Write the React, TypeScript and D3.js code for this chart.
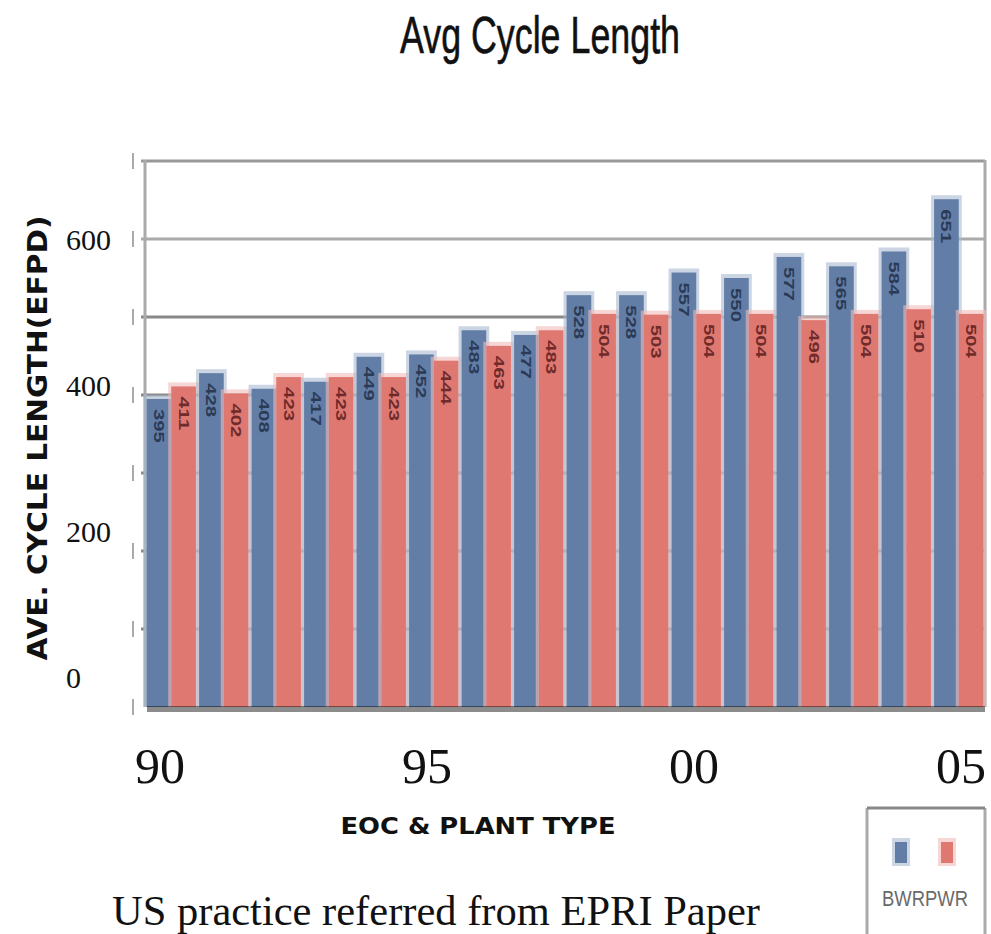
import * as d3 from 'd3';

// EOC years and average cycle length (EFPD)
const years = ['1990', '1991', '1992', '1993', '1994', '1995', '1996', '1997',
  '1998', '1999', '2000', '2001', '2002', '2003', '2004', '2005'];
const bwr = [395, 428, 408, 417, 449, 452, 483, 477, 528, 528, 557, 550, 577, 565, 584, 651];
const pwr = [411, 402, 423, 423, 423, 444, 463, 483, 504, 503, 504, 504, 496, 504, 510, 504];
const seriesNames = ['BWR', 'PWR'];

// the overlaid tick labels on the left and the year labels below
const yLabels = [600, 400, 200, 0];
const xLabels = [
  { year: 1990, text: '90' },
  { year: 1995, text: '95' },
  { year: 2000, text: '00' },
  { year: 2005, text: '05' },
];

const W = 991;
const H = 934;
const colors: Record<string, string> = { BWR: '#627ea7', PWR: '#e07872' };
const lightColors: Record<string, string> = { BWR: '#a9b9d1', PWR: '#f0bcb9' };
const labelColors: Record<string, string> = { BWR: '#2b3a55', PWR: '#6e2b2a' };

export default function App() {
  const plot = { left: 145, right: 985, top: 160, bottom: 707 };

  const x = d3.scaleBand<string>()
    .domain(years)
    .range([plot.left, plot.right])
    .paddingInner(0.06)
    .paddingOuter(0.03);

  const xs = d3.scaleBand<string>()
    .domain(seriesNames)
    .range([0, x.bandwidth()]);

  const y = d3.scaleLinear().domain([0, 700]).range([plot.bottom, plot.top + 1]);

  // the text boxes round the plot don't line up with the grid or the bars
  const yText = d3.scaleLinear().domain([0, 600]).range([688, 250]);
  const xText = d3.scaleLinear().domain([1990, 2005]).range([160, 961]);

  const grid = d3.range(100, 701, 100);

  const bars = years.flatMap((yr, i) => [
    { year: yr, key: 'BWR', value: bwr[i] },
    { year: yr, key: 'PWR', value: pwr[i] },
  ]);

  return (
    <svg width={W} height={H} style={{ position: 'absolute', left: 0, top: 0, background: '#fff' }}>
      {/* title */}
      <text x={540} y={53} textAnchor="middle" fontFamily="'Liberation Sans Narrow', 'Liberation Sans', Arial"
        fontSize={52} fill="#111" stroke="#111" strokeWidth={0.6} textLength={280} lengthAdjust="spacingAndGlyphs">
        Avg Cycle Length
      </text>

      {/* dashed axis line on the far left */}
      {[0, ...grid].map(v => (
        <line key={'d' + v} x1={133} x2={133} y1={y(v) - 8} y2={y(v) + 8} stroke="#aaa" strokeWidth={2} />
      ))}

      {/* gridlines */}
      {grid.map(v => (
        <line key={'g' + v} x1={plot.left - 4} x2={plot.right} y1={y(v)} y2={y(v)}
          stroke={v === 700 ? '#999' : v === 600 ? '#aaa' : '#888'} strokeWidth={3} />
      ))}
      <line x1={plot.left} x2={plot.left} y1={plot.top} y2={plot.bottom} stroke="#aaa" strokeWidth={3} />
      <line x1={plot.right} x2={plot.right} y1={plot.top} y2={plot.bottom} stroke="#aaa" strokeWidth={3} />

      {/* bars */}
      {bars.map(d => {
        const bx = (x(d.year) as number) + (xs(d.key) as number);
        const bw = xs.bandwidth();
        const top = y(d.value);
        return (
          <g key={d.year + d.key}>
            <rect x={bx - 3} y={top - 4} width={bw + 6} height={plot.bottom - top + 4}
              fill={lightColors[d.key]} opacity={0.6} />
            <rect x={bx} y={top} width={bw} height={plot.bottom - top} fill={colors[d.key]} />
          </g>
        );
      })}
      {bars.map(d => {
        const cx = (x(d.year) as number) + (xs(d.key) as number) + xs.bandwidth() / 2;
        const ty = y(d.value) + 10;
        return (
          <text key={'l' + d.year + d.key} transform={`translate(${cx - 5},${ty}) rotate(90)`}
            fontFamily="'Liberation Sans', Arial" fontSize={14} fontWeight="bold"
            fill={labelColors[d.key]} textLength={34} lengthAdjust="spacingAndGlyphs">
            {d.value}
          </text>
        );
      })}

      {/* dark base band */}
      <rect x={plot.left + 2} y={plot.bottom - 1} width={plot.right - plot.left - 2} height={6} fill="#000" opacity={0.45} />

      {/* overlaid y labels */}
      {yLabels.map(v => (
        <text key={'y' + v} x={66} y={yText(v)} fontFamily="'Liberation Serif', 'Times New Roman', serif"
          fontSize={30} fill="#111">
          {v}
        </text>
      ))}

      {/* y title */}
      <text transform="translate(47,438) rotate(-90)" textAnchor="middle"
        fontFamily="'DejaVu Sans', sans-serif" fontWeight="bold" fontSize={26} fill="#111"
        textLength={445} lengthAdjust="spacingAndGlyphs">
        AVE. CYCLE  LENGTH(EFPD)
      </text>

      {/* x labels */}
      {xLabels.map(d => (
        <text key={'x' + d.text} x={xText(d.year)} y={783} textAnchor="middle"
          fontFamily="'Liberation Serif', 'Times New Roman', serif" fontSize={50} fill="#111">
          {d.text}
        </text>
      ))}

      <text x={478} y={834} textAnchor="middle" fontFamily="'DejaVu Sans', sans-serif" fontWeight="bold"
        fontSize={23} fill="#111" textLength={275} lengthAdjust="spacingAndGlyphs">
        EOC &amp; PLANT TYPE
      </text>

      {/* legend */}
      <g>
        <line x1={867} x2={867} y1={808} y2={934} stroke="#aaa" strokeWidth={3} />
        <line x1={985} x2={985} y1={808} y2={934} stroke="#aaa" strokeWidth={3} />
        <line x1={867} x2={985} y1={808} y2={808} stroke="#888" strokeWidth={3} />
        {seriesNames.map((s, i) => (
          <g key={'lg' + s}>
            <rect x={892 + i * 46} y={838} width={18} height={28} fill={lightColors[s]} opacity={0.6} />
            <rect x={895 + i * 46} y={842} width={12} height={21} fill={colors[s]} />
          </g>
        ))}
        <text x={882} y={906} fontFamily="'Liberation Sans Narrow', 'Liberation Sans', Arial" fontSize={22}
          fill="#6a6a6a" textLength={86} lengthAdjust="spacingAndGlyphs">
          {seriesNames.join('')}
        </text>
      </g>

      {/* caption */}
      <text x={112} y={925} fontFamily="'Liberation Serif', 'Times New Roman', serif" fontSize={42} fill="#111"
        textLength={648} lengthAdjust="spacingAndGlyphs">
        US practice referred from EPRI Paper
      </text>
    </svg>
  );
}
